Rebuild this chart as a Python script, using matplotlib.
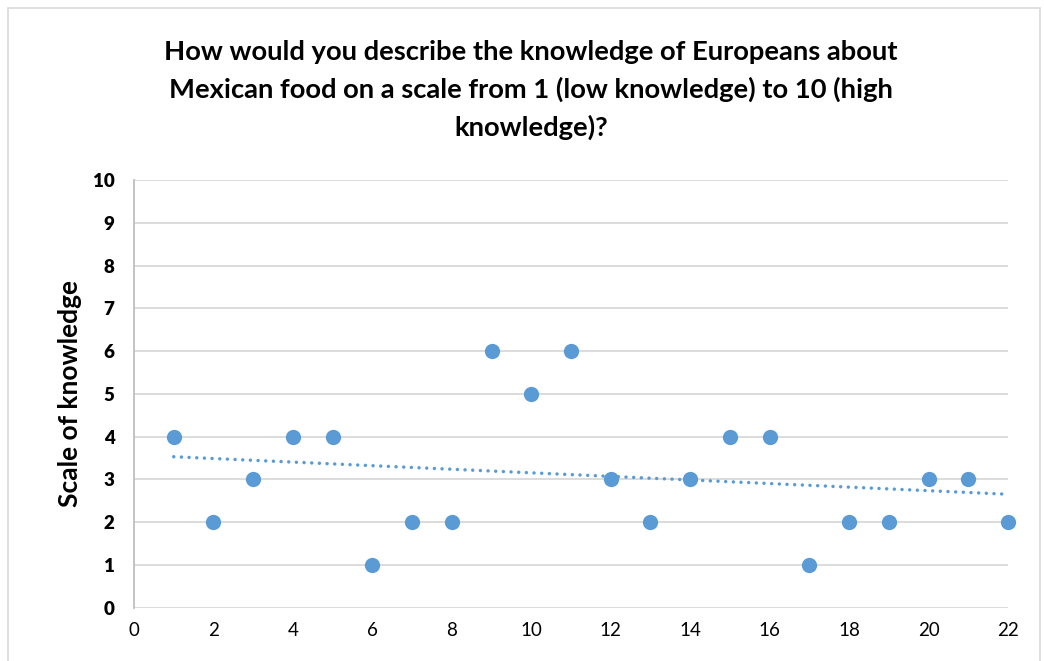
import numpy as np
import matplotlib
matplotlib.use("Agg")
import matplotlib.pyplot as plt
from matplotlib.patches import Rectangle

respondent = list(range(1, 23))
knowledge = [4, 2, 3, 4, 4, 1, 2, 2, 6, 5, 6, 3, 2, 3, 4, 4, 1, 2, 2, 3, 3, 2]
title = ("How would you describe the knowledge of Europeans about\n"
         "Mexican food on a scale from 1 (low knowledge) to 10 (high\n"
         "knowledge)?")
ylabel = "Scale of knowledge"
xticks = list(range(0, 23, 2))
yticks = list(range(0, 11))

plt.rcParams['font.family'] = ['Lato', 'DejaVu Sans']
blue = '#5B9BD5'

fig = plt.figure(figsize=(10.44, 6.61), dpi=100)
fig.patches.append(Rectangle((8/1044, -0.05), (1040-8)/1044, 1.05 - 8/661,
                             transform=fig.transFigure, fill=False,
                             edgecolor='#d9d9d9', linewidth=1.2))
ax = fig.add_axes([134/1044, 1-607.7/661, (1008-134)/1044, (607.7-180)/661])

ax.set_xlim(0, 22)
ax.set_ylim(0, 10)
ax.set_xticks(xticks)
ax.set_yticks(yticks)
ax.grid(axis='y', color='#d9d9d9', linewidth=1.3)
ax.set_axisbelow(True)
for s in ['top', 'right', 'bottom']:
    ax.spines[s].set_visible(False)
ax.spines['left'].set_color('#bfbfbf')
ax.spines['left'].set_linewidth(1.3)
ax.tick_params(axis='both', length=0)
ax.tick_params(axis='x', labelsize=13.5, pad=10, labelcolor='#000000')
ax.tick_params(axis='y', labelsize=13.5, pad=14)
for lab in ax.get_yticklabels():
    lab.set_fontweight('heavy')

coef = np.polyfit(respondent, knowledge, 1)
tx = np.array([respondent[0], respondent[-1]])
ax.plot(tx, np.polyval(coef, tx), color=blue, linewidth=2.5,
        linestyle=(0, (0.01, 2.2)), dash_capstyle='round', zorder=2)
ax.plot(respondent, knowledge, 'o', color=blue, markersize=11,
        markeredgewidth=0, zorder=3, clip_on=False)

ax.set_ylabel(ylabel, fontsize=19, fontweight='bold', labelpad=8)
fig.text(531/1044, 1-40/661, title, ha='center', va='top', fontsize=19.7,
         fontweight='bold', linespacing=1.6)

fig.savefig('out.png', dpi=100)
